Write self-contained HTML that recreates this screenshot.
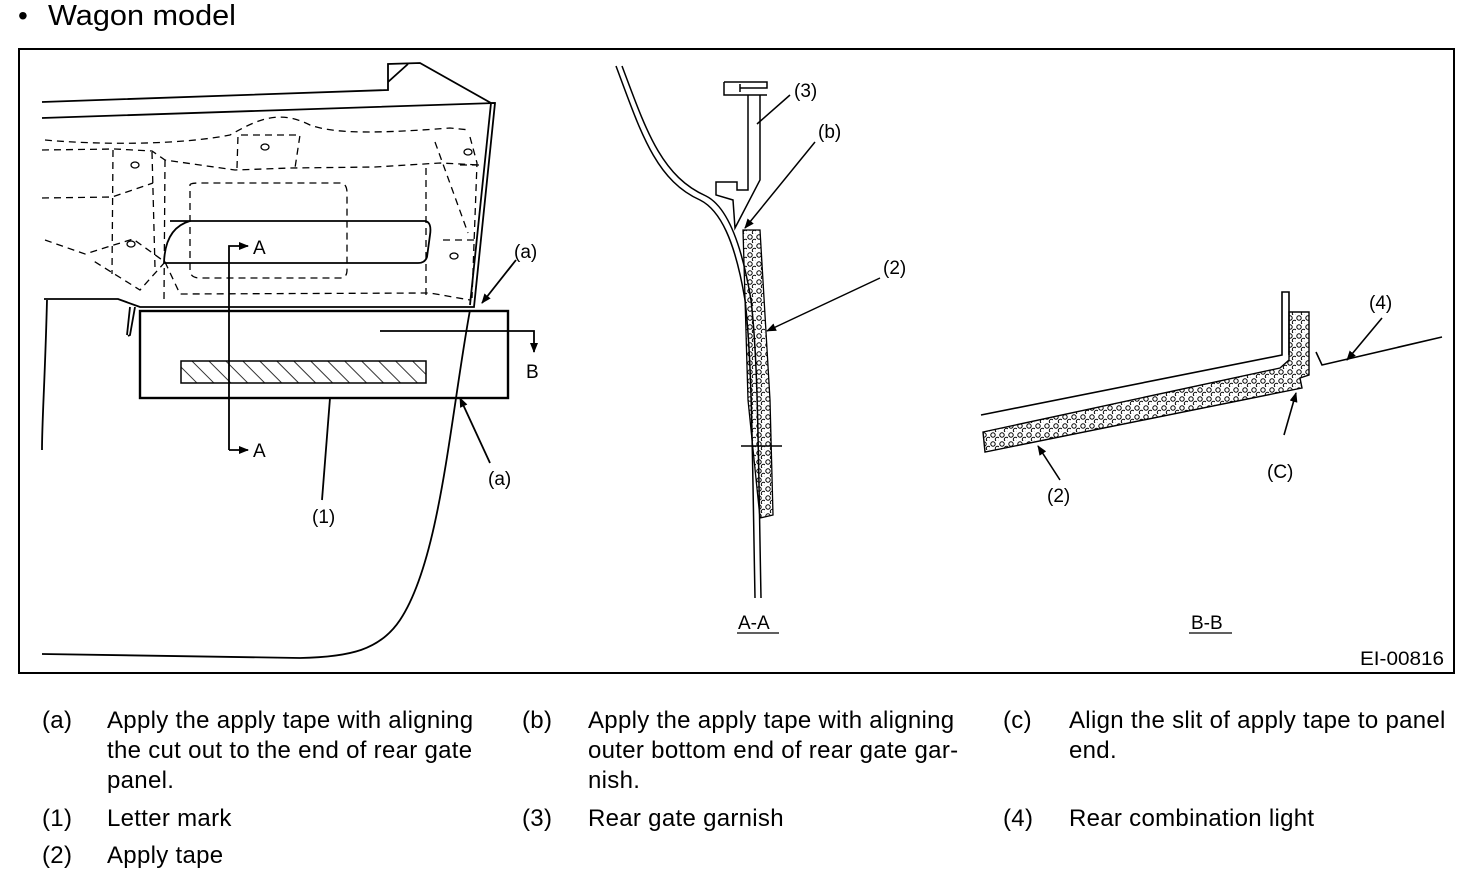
<!DOCTYPE html>
<html><head><meta charset="utf-8"><style>
html,body{margin:0;padding:0;background:#fff;}
svg{display:block;font-family:"Liberation Sans",Arial,sans-serif;}
</style></head><body>
<svg width="1472" height="874" viewBox="0 0 1472 874" xmlns="http://www.w3.org/2000/svg">
<defs>
<pattern id="hatch" patternUnits="userSpaceOnUse" width="12" height="12" patternTransform="rotate(-45)">
<line x1="0" y1="0" x2="0" y2="12" stroke="#000" stroke-width="1.6"/>
</pattern>
<pattern id="dots" patternUnits="userSpaceOnUse" width="9" height="9">
<circle cx="3" cy="3" r="2.2" fill="none" stroke="#000" stroke-width="1"/>
<circle cx="7.5" cy="7.5" r="2.2" fill="none" stroke="#000" stroke-width="1"/>
</pattern>
<marker id="ar" markerWidth="10" markerHeight="8" refX="9" refY="4" orient="auto" markerUnits="userSpaceOnUse">
<path d="M0,0 L10,4 L0,8 z" fill="#000"/>
</marker>
</defs>
<text x="18" y="25" font-size="28">•</text>
<text x="48" y="25" font-size="29" textLength="188" lengthAdjust="spacingAndGlyphs">Wagon model</text>
<rect x="19" y="49" width="1435" height="624" fill="none" stroke="#000" stroke-width="2"/>

<!-- left drawing -->
<g fill="none" stroke="#000" stroke-width="1.8">
<path d="M42,102 L388,90 L388,64 L420,63 L491,103 L495,103"/>
<path d="M388,82 L408,64"/>
<path d="M42,118 L495,103 L474,307 L140,307 L118,299 L44,299"/>
<path d="M491,103 L470,305"/>
<path d="M47,300 C45,380 42,420 42,450"/>
<path d="M135,307 L130,335 L128,336 M130,307 L127,335"/>
<path d="M170,221 L425,221 Q432,222 430,235 L427,257 Q425,263 418,263 L164,263 Q165,228 190,221"/>
<path d="M470,310 C450,420 440,560 400,620 C380,650 350,657 300,658 L42,654"/>
<rect x="140" y="311" width="368" height="87" stroke-width="2.4"/>
<rect x="181" y="361" width="245" height="22" fill="url(#hatch)" stroke-width="1.5"/>
<path d="M229,450 L229,246 L248,246" marker-end="url(#ar)"/>
<path d="M229,450 L248,450" marker-end="url(#ar)"/>
<path d="M380,331 L534,331 L534,352" marker-end="url(#ar)"/>
<path d="M330,398 L322,500"/>
<path d="M516,260 L482,303" marker-end="url(#ar)"/>
<path d="M490,463 L460,398" marker-end="url(#ar)"/>
</g>
<g fill="none" stroke="#000" stroke-width="1.3" stroke-dasharray="7,5">
<path d="M45,140 C100,145 180,145 230,135 C260,118 280,110 310,125 C330,132 360,135 450,128 L470,130"/>
<path d="M42,150 L115,149 L152,151 L165,160 L235,170 L290,168 L375,167 L440,163 L480,165"/>
<path d="M113,150 L112,274 M152,152 L155,268 M165,160 L164,300"/>
<path d="M42,198 L112,197 L153,183"/>
<path d="M45,240 L85,254 L133,239 L165,262 L140,290 L92,260"/>
<path d="M165,262 L180,294 L430,293 L470,300"/>
<path d="M237,168 L238,135 L300,135 L295,168"/>
<path d="M426,168 L426,300 M435,142 L468,233 M470,137 L477,163 L472,298"/>
<path d="M190,185 Q190,183 200,183 L340,183 Q347,183 347,193 L347,270 Q347,278 340,278 L200,278 Q190,278 190,270 Z"/>
<path d="M443,240 L478,240 M460,165 L485,165"/>
</g>
<g fill="none" stroke="#000" stroke-width="1.3">
<ellipse cx="131" cy="244" rx="4" ry="3"/><ellipse cx="135" cy="165" rx="4" ry="3"/>
<ellipse cx="265" cy="147" rx="4" ry="3"/><ellipse cx="468" cy="152" rx="4" ry="3"/>
<ellipse cx="454" cy="256" rx="4" ry="3"/>
</g>
<g font-size="19">
<text x="253" y="254">A</text><text x="253" y="457">A</text><text x="526" y="378">B</text>
<text x="514" y="258">(a)</text><text x="488" y="485">(a)</text><text x="312" y="523">(1)</text>
</g>

<!-- A-A -->
<g fill="none" stroke="#000" stroke-width="1.5">
<path d="M616,66 C640,130 655,180 700,200 C720,210 735,240 745,300 C752,360 752,440 755,598"/>
<path d="M622,66 C646,130 661,176 706,196 C726,206 741,240 751,300 C758,360 758,440 761,598"/>
<path d="M724,82 L724,95 L767,95 M724,82 L767,82 L767,88 L740,88 M740,84 L740,92"/>
<path d="M748,95 L748,190 L737,190 L737,182 L716,182 L716,195 L733,200 L735,228 L760,180 L760,95"/>
<path d="M757,124 L790,95"/>
<path d="M815,142 L745,228" marker-end="url(#ar)"/>
<path d="M880,278 L767,331" marker-end="url(#ar)"/>
<path d="M741,446 L782,446"/>
</g>
<path d="M743,230 L760,230 L770,400 L773,515 L760,518 L748,400 Z" fill="url(#dots)" stroke="#000" stroke-width="1.3"/>
<g font-size="19">
<text x="794" y="97">(3)</text><text x="818" y="138">(b)</text><text x="883" y="274">(2)</text>
<text x="738" y="629">A-A</text>
<text x="1191" y="629">B-B</text>
</g>

<!-- B-B -->
<g fill="none" stroke="#000" stroke-width="1.6">
<path d="M981,415 L1282,355 L1282,292 L1289,292 L1289,355"/>
<path d="M1316,352 L1322,365 L1442,337"/>
<path d="M1382,318 L1347,360" marker-end="url(#ar)"/>
<path d="M1284,435 L1296,393" marker-end="url(#ar)"/>
<path d="M1060,480 L1038,446" marker-end="url(#ar)"/>
<path d="M1189,633 L1232,633 M737,633 L779,633" stroke-width="1.3"/>
</g>
<path d="M983,432 L1280,368 L1289,360 L1289,312 L1309,312 L1309,375 L1300,378 L1302,388 L985,452 Z" fill="url(#dots)" stroke="#000" stroke-width="1.4"/>
<g font-size="19">
<text x="1369" y="309">(4)</text><text x="1267" y="478">(C)</text><text x="1047" y="502">(2)</text>
<text x="1360" y="665" textLength="84" lengthAdjust="spacingAndGlyphs">EI-00816</text>
</g>

<!-- legend -->
<g font-size="24" letter-spacing="0.3">
<text x="42" y="728">(a)</text>
<text x="107" y="728">Apply the apply tape with aligning</text>
<text x="107" y="758">the cut out to the end of rear gate</text>
<text x="107" y="788">panel.</text>
<text x="522" y="728">(b)</text>
<text x="588" y="728">Apply the apply tape with aligning</text>
<text x="588" y="758">outer bottom end of rear gate gar-</text>
<text x="588" y="788">nish.</text>
<text x="1003" y="728">(c)</text>
<text x="1069" y="728">Align the slit of apply tape to panel</text>
<text x="1069" y="758">end.</text>
<text x="42" y="826">(1)</text><text x="107" y="826">Letter mark</text>
<text x="522" y="826">(3)</text><text x="588" y="826">Rear gate garnish</text>
<text x="1003" y="826">(4)</text><text x="1069" y="826">Rear combination light</text>
<text x="42" y="863">(2)</text><text x="107" y="863">Apply tape</text>
</g>
</svg>
</body></html>
